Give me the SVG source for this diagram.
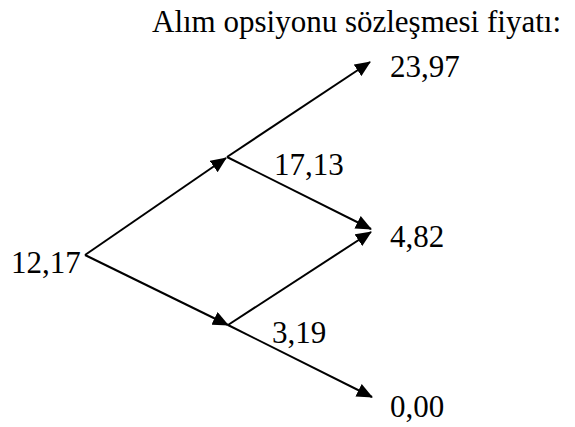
<svg xmlns="http://www.w3.org/2000/svg" width="575" height="427" viewBox="0 0 575 427">
<style>
text{font-family:"Liberation Serif","Times New Roman",serif;font-size:31px;fill:#000}
.c line{stroke:#000;stroke-width:2;fill:none}
</style>
<defs>
<marker id="ah" viewBox="0 0 16 14" refX="15" refY="7" markerWidth="16" markerHeight="14" markerUnits="userSpaceOnUse" orient="auto">
<path d="M0,0 L16,7 L0,14 Z" fill="#000"/>
</marker>
</defs>
<rect width="575" height="427" fill="#fff"/>
<text id="title" x="152" y="32">Alım opsiyonu sözleşmesi fiyatı:</text>
<g class="c" id="connectors">
<line x1="85" y1="255" x2="226" y2="158" marker-end="url(#ah)"/>
<line x1="85" y1="255" x2="228" y2="325" marker-end="url(#ah)"/>
<line x1="227" y1="157" x2="370" y2="62" marker-end="url(#ah)"/>
<line x1="227" y1="157" x2="371" y2="229" marker-end="url(#ah)"/>
<line x1="228" y1="325" x2="371" y2="232" marker-end="url(#ah)"/>
<line x1="228" y1="325" x2="372" y2="397" marker-end="url(#ah)"/>
</g>
<g id="n0"><text x="11" y="273">12,17</text></g>
<g id="n1"><text x="274" y="175">17,13</text></g>
<g id="n2"><text x="272" y="343">3,19</text></g>
<g id="n3"><text x="390" y="77">23,97</text></g>
<g id="n4"><text x="390" y="247">4,82</text></g>
<g id="n5"><text x="390" y="417">0,00</text></g>
</svg>
